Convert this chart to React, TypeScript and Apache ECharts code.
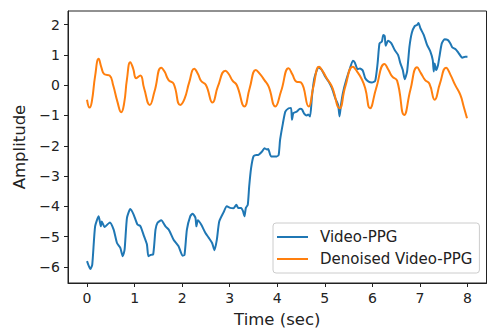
import React, { useEffect, useRef } from "react";
import * as echarts from "echarts";

const timeRaw = [
  0.0, 0.07, 0.11, 0.17, 0.245, 0.29, 0.31, 0.37, 0.48, 0.56, 0.63, 0.7, 0.75, 0.79, 0.84, 0.91, 0.98, 1.06, 1.12,
  1.2, 1.26, 1.29, 1.34, 1.39, 1.44, 1.48, 1.56, 1.65, 1.72, 1.82, 1.925, 2.01, 2.05, 2.1, 2.17, 2.22, 2.28, 2.3,
  2.33, 2.4, 2.49, 2.56, 2.63, 2.68, 2.73, 2.78, 2.87, 2.94, 3.01, 3.08, 3.14, 3.18, 3.24, 3.28, 3.31, 3.34, 3.38,
  3.41, 3.45, 3.5, 3.56, 3.6, 3.68, 3.73, 3.78, 3.81, 3.87, 3.99, 4.03, 4.06, 4.12, 4.17, 4.24, 4.29, 4.31, 4.34,
  4.41, 4.48, 4.52, 4.57, 4.62, 4.65, 4.69, 4.73, 4.78, 4.87, 4.93, 5.01, 5.08, 5.15, 5.22, 5.28, 5.31, 5.34, 5.38,
  5.45, 5.53, 5.59, 5.63, 5.69, 5.74, 5.8, 5.85, 5.92, 5.99, 6.06, 6.11, 6.15, 6.2, 6.23, 6.26, 6.28, 6.33, 6.4,
  6.47, 6.54, 6.59, 6.64, 6.68, 6.73, 6.78, 6.83, 6.89, 6.94, 6.97, 7.01, 7.08, 7.15, 7.22, 7.27, 7.29, 7.31, 7.34,
  7.38, 7.41, 7.46, 7.52, 7.59, 7.64, 7.68, 7.75, 7.81, 7.89, 7.95, 8.0,
];
const valuesRaw = [
  -5.81, -6.07, -5.92, -4.66, -4.33, -4.66, -4.5, -4.68, -4.53, -4.77, -5.21, -5.37, -5.65, -5.43, -4.38, -4.09,
  -4.27, -4.6, -4.65, -4.99, -5.26, -5.65, -5.6, -5.59, -4.77, -4.55, -4.46, -4.66, -4.77, -5.1, -5.32, -5.63, -5.6,
  -4.77, -4.33, -4.24, -4.38, -4.66, -4.46, -4.6, -4.88, -5.04, -5.21, -5.45, -5.1, -4.5, -4.2, -4.0, -4.05, -4.06,
  -3.95, -4.05, -4.05, -4.16, -4.33, -4.05, -3.95, -3.34, -2.74, -2.35, -2.3, -2.3, -2.19, -2.08, -2.12, -2.11,
  -2.35, -2.35, -2.3, -1.8, -1.25, -0.87, -0.76, -0.75, -1.14, -0.92, -0.87, -0.78, -0.8, -0.95, -1.0, -0.97, -1.03,
  -0.37, 0.23, 0.59, 0.52, 0.28, 0.12, -0.1, -0.43, -0.65, -1.03, -0.65, -0.26, 0.17, 0.56, 0.81, 0.75, 0.53, 0.55,
  0.48, 0.23, 0.12, 0.09, 0.15, 0.72, 1.38, 1.44, 1.66, 1.62, 1.3, 1.47, 1.38, 1.16, 1.0, 0.72, 0.5, 0.2, 0.45, 1.27,
  1.73, 1.95, 1.99, 2.05, 1.88, 1.66, 1.33, 1.11, 0.83, 0.45, 0.72, 0.5, 0.66, 0.94, 1.38, 1.52, 1.49, 1.38, 1.25,
  1.19, 1.07, 0.91, 0.94, 0.94,
];

const timeDenoised = [
  0.0, 0.055, 0.1, 0.17, 0.245, 0.3, 0.365, 0.475, 0.55, 0.64, 0.72, 0.78, 0.84, 0.91, 0.97, 1.035, 1.12, 1.2, 1.32,
  1.42, 1.56, 1.63, 1.715, 1.82, 1.96, 2.05, 2.15, 2.255, 2.33, 2.4, 2.5, 2.64, 2.75, 2.91, 2.98, 3.06, 3.15, 3.31,
  3.42, 3.55, 3.63, 3.73, 3.82, 3.96, 4.08, 4.24, 4.32, 4.4, 4.5, 4.66, 4.76, 4.88, 4.96, 5.04, 5.15, 5.31, 5.43,
  5.59, 5.68, 5.77, 5.85, 5.95, 6.08, 6.255, 6.34, 6.42, 6.52, 6.67, 6.8, 6.94, 7.02, 7.11, 7.2, 7.31, 7.42, 7.55,
  7.64, 7.74, 7.85, 7.92, 7.99,
];
const valuesDenoised = [
  -0.48, -0.74, -0.55, 0.3, 0.87, 0.6, 0.36, 0.32, 0.0, -0.55, -0.89, -0.6, 0.2, 0.76, 0.55, 0.23, 0.32, -0.1, -0.65,
  -0.2, 0.58, 0.45, 0.17, 0.05, -0.65, -0.45, 0.1, 0.54, 0.38, 0.14, 0.01, -0.57, -0.05, 0.48, 0.37, 0.15, 0.0, -0.7,
  -0.1, 0.5, 0.38, 0.17, -0.05, -0.7, -0.2, 0.56, 0.35, 0.12, 0.09, -0.7, -0.05, 0.61, 0.45, 0.23, -0.05, -0.76,
  -0.05, 0.61, 0.45, 0.22, -0.1, -0.76, -0.1, 0.7, 0.5, 0.28, 0.15, -0.98, -0.15, 0.59, 0.4, 0.17, 0.05, -0.48, 0.05,
  0.58, 0.35, 0.01, -0.32, -0.7, -1.09,
];

const seriesNames = ["Video-PPG", "Denoised Video-PPG"];
const xTicks = [0, 1, 2, 3, 4, 5, 6, 7, 8];
const yTicks = [-6, -5, -4, -3, -2, -1, 0, 1, 2];

const FONT = "'DejaVu Sans', sans-serif";
const TXT = "#222";

export default function App() {
  const ref = useRef<HTMLDivElement>(null);
  useEffect(() => {
    if (!ref.current) return;
    const chart = echarts.init(ref.current, undefined, { renderer: "svg" });
    const fmt = (v: number) => String(Math.round(v)).replace("-", "\u2212");
    chart.setOption({
      animation: false,
      backgroundColor: "#fff",
      textStyle: { fontFamily: FONT },
      grid: {
        left: 68,
        top: 11,
        right: 6.5,
        bottom: 51,
        show: true,
        borderColor: "#222",
        borderWidth: 1,
        backgroundColor: "transparent",
      },
      legend: {
        orient: "vertical",
        left: 273,
        top: 223,
        padding: [6, 7, 6, 4],
        itemGap: 6,
        itemWidth: 31,
        itemHeight: 2,
        icon: "rect",
        backgroundColor: "rgba(255,255,255,0.8)",
        borderColor: "#ccc",
        borderWidth: 1,
        borderRadius: 3,
        textStyle: { fontFamily: FONT, fontSize: 15, color: TXT, padding: [0, 0, 0, 7], lineHeight: 16 },
        data: seriesNames,
      },
      xAxis: {
        type: "value",
        min: -0.4,
        max: 8.4,
        name: "Time (sec)",
        nameLocation: "middle",
        nameGap: 28,
        nameTextStyle: { fontFamily: FONT, fontSize: 16.5, color: TXT },
        splitLine: { show: false },
        axisLine: { show: true, onZero: false, lineStyle: { color: "#222", width: 1 } },
        axisTick: { show: true, inside: false, length: 4, lineStyle: { color: "#222" }, customValues: xTicks },
        axisLabel: {
          fontFamily: FONT,
          fontSize: 14,
          color: TXT,
          margin: 8,
          customValues: xTicks,
          formatter: fmt,
        },
      },
      yAxis: {
        type: "value",
        min: -6.53,
        max: 2.45,
        name: "Amplitude",
        nameLocation: "middle",
        nameRotate: 90,
        nameGap: 40,
        nameTextStyle: { fontFamily: FONT, fontSize: 16.5, color: TXT },
        splitLine: { show: false },
        axisLine: { show: true, onZero: false, lineStyle: { color: "#222", width: 1 } },
        axisTick: { show: true, inside: false, length: 4, lineStyle: { color: "#222" }, customValues: yTicks },
        axisLabel: {
          fontFamily: FONT,
          fontSize: 14,
          color: TXT,
          margin: 8,
          customValues: yTicks,
          formatter: fmt,
        },
      },
      series: [
        {
          name: seriesNames[0],
          type: "line",
          data: timeRaw.map((t, i) => [t, valuesRaw[i]]),
          showSymbol: false,
          symbol: "none",
          smooth: 0.2,
          lineStyle: { color: "#1f77b4", width: 2 },
          itemStyle: { color: "#1f77b4" },
        },
        {
          name: seriesNames[1],
          type: "line",
          data: timeDenoised.map((t, i) => [t, valuesDenoised[i]]),
          showSymbol: false,
          symbol: "none",
          smooth: 0.5,
          lineStyle: { color: "#ff7f0e", width: 2 },
          itemStyle: { color: "#ff7f0e" },
        },
      ],
    });
    return () => chart.dispose();
  }, []);
  return (
    <div
      ref={ref}
      style={{ position: "absolute", left: 0, top: 0, width: 493, height: 334, background: "#fff" }}
    />
  );
}
